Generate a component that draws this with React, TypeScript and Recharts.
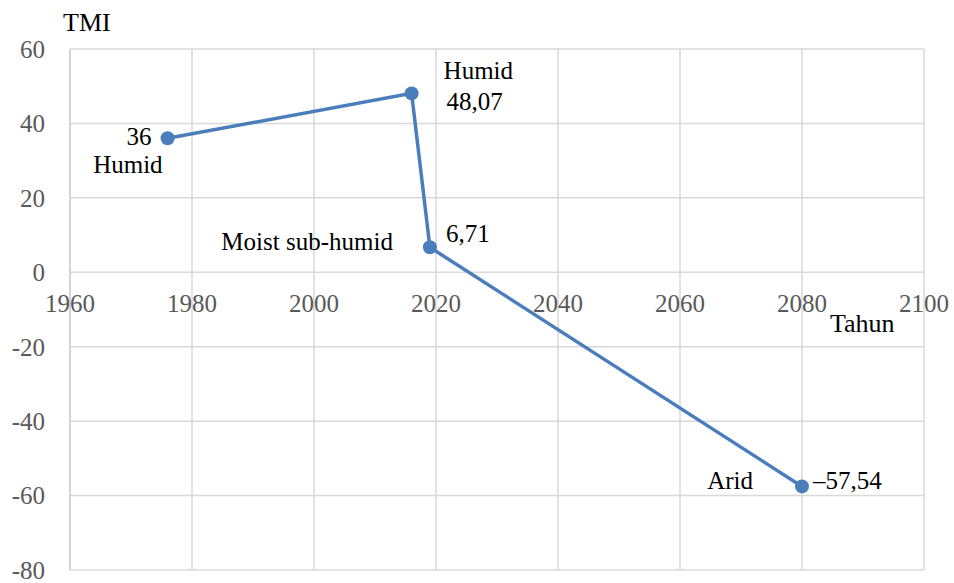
import { LineChart, Line, XAxis, YAxis, CartesianGrid, LabelList } from 'recharts'

const years = [1976, 2016, 2019, 2080]
const tmiValues = [36, 48.07, 6.71, -57.54]
const valueLabels = ['36', '48,07', '6,71', '\u201357,54']
const climateLabels = ['Humid', 'Humid', 'Moist sub-humid', 'Arid']
const xTicks = [1960, 1980, 2000, 2020, 2040, 2060, 2080, 2100]
const yTicks = [-80, -60, -40, -20, 0, 20, 40, 60]

const data = years.map((year, i) => ({
    year,
    tmi: tmiValues[i],
    valueLabel: valueLabels[i],
    climate: climateLabels[i],
}))

const W = 954
const H = 583
const X_AXIS_H = 10
const M = { top: 49, right: 30, bottom: 13 - X_AXIS_H, left: 0 }
const Y_AXIS_W = 70
const plotH = H - M.top - M.bottom - X_AXIS_H
const zeroY = M.top + (plotH * 60) / 140

// label placement relative to each point: [dx, dy, anchor] for value and climate text
const labelOffsets: Array<{ v: [number, number, string]; c: [number, number, string] }> = [
    { v: [-16, -2, 'end'], c: [-5, 26, 'end'] },
    { v: [35, 8, 'start'], c: [32, -23, 'start'] },
    { v: [16, -14, 'start'], c: [-37, -6, 'end'] },
    { v: [11, -6, 'start'], c: [-49, -6, 'end'] },
]

const serif = 'Liberation Serif, Times New Roman, DejaVu Serif, serif'

function XTick(props: any) {
    const { x, payload } = props
    return (
        <text x={x} y={zeroY + 40} textAnchor="middle" fill="#595959" fontSize={25} style={{ fontFamily: serif }}>
            {payload.value}
        </text>
    )
}

function PointLabels(props: any) {
    const { x, y, index } = props
    const d = data[index]
    const o = labelOffsets[index]
    if (!d || !o) return null
    return (
        <g style={{ fontFamily: serif }} fontSize={25} fill="#000">
            <text x={x + o.v[0]} y={y + o.v[1]} textAnchor={o.v[2] as any} dominantBaseline="central">
                {d.valueLabel}
            </text>
            <text x={x + o.c[0]} y={y + o.c[1]} textAnchor={o.c[2] as any} dominantBaseline="central">
                {d.climate}
            </text>
        </g>
    )
}

export default function App() {
    return (
        <div style={{ position: 'absolute', left: 0, top: 0, width: W, height: H, background: '#fff', fontFamily: serif }}>
            <LineChart width={W} height={H} data={data} margin={M} style={{ fontFamily: serif }}>
                <CartesianGrid stroke="#d9d9d9" strokeWidth={1.5} />
                <XAxis
                    dataKey="year"
                    type="number"
                    domain={[1960, 2100]}
                    ticks={xTicks}
                    axisLine={false}
                    tickLine={false}
                    height={X_AXIS_H}
                    tick={(p: any) => <XTick {...p} />}
                    interval={0}
                />
                <YAxis
                    type="number"
                    domain={[-80, 60]}
                    ticks={yTicks}
                    width={Y_AXIS_W}
                    axisLine={{ stroke: '#d0d0d0', strokeWidth: 1.5 }}
                    tickLine={false}
                    tickSize={0}
                    tickMargin={25}
                    interval={0}
                    tick={{ fill: '#595959', fontSize: 25, style: { fontFamily: serif } }}
                />
                <Line
                    dataKey="tmi"
                    stroke="#4a7ebb"
                    strokeWidth={3.5}
                    dot={{ r: 7, fill: '#4a7ebb', stroke: '#4a7ebb', strokeWidth: 0 }}
                    isAnimationActive={false}
                >
                    <LabelList dataKey="tmi" content={<PointLabels />} />
                </Line>
            </LineChart>
            <div style={{ position: 'absolute', left: 63, top: 8, fontSize: 26, color: '#000', lineHeight: '30px' }}>TMI</div>
            <div style={{ position: 'absolute', left: 830, top: 309, fontSize: 26, color: '#000', lineHeight: '30px' }}>Tahun</div>
        </div>
    )
}
